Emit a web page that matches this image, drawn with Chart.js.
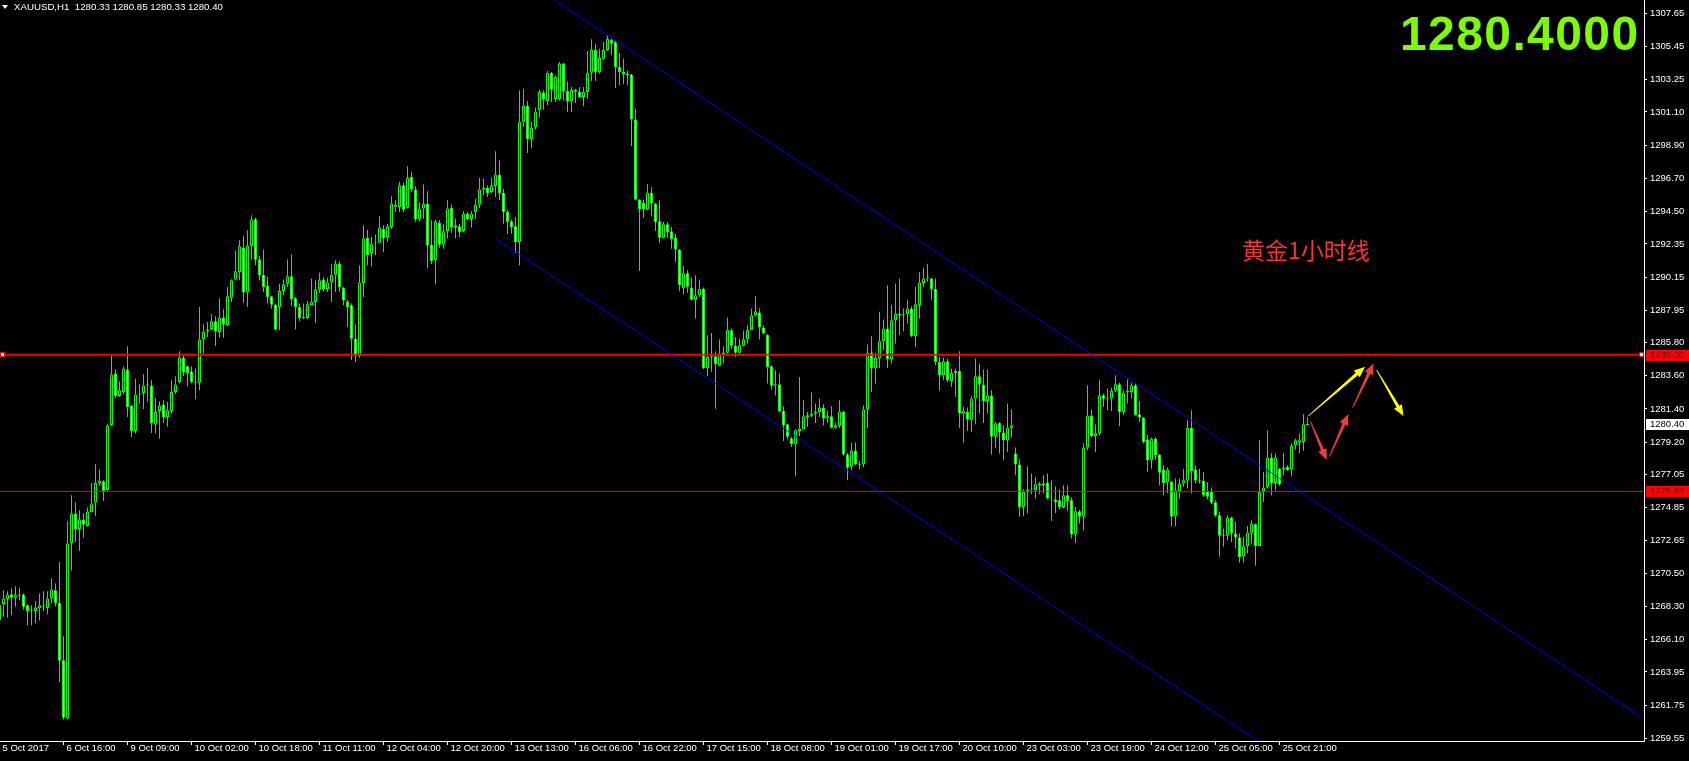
<!DOCTYPE html>
<html>
<head>
<meta charset="utf-8">
<title>XAUUSD,H1</title>
<script src="https://cdn.jsdelivr.net/npm/chart.js@4.4.1/dist/chart.umd.min.js"></script>
<style>
    html, body { margin: 0; padding: 0; background: #000; }
    body { width: 1689px; height: 761px; overflow: hidden; position: relative; }
    #myChart { position: absolute; left: 0; top: 0; }
    .overlay { position: absolute; white-space: nowrap; }
    #tri { position: absolute; left: 2px; top: 5px; width: 0; height: 0;
           border-left: 3px solid transparent; border-right: 3px solid transparent; border-top: 4px solid #fff; }
    #header { left: 14px; top: 1px; color: #fff;
              font: 9.7px/11px 'Liberation Sans', Arial, sans-serif; }
    #bigPrice { left: 1400px; top: 10px; color: #7cfc00; letter-spacing: 1.4px;
                font: bold 48px/48px 'Liberation Sans', Arial, sans-serif; }
    #note { left: 1242px; top: 238px; color: #ff3030;
            font: 23px/23px 'Noto Sans CJK SC', sans-serif; }
</style>
</head>
<body>
<canvas id="myChart" width="1689" height="761"></canvas>
<div id="tri"></div>
<div class="overlay" id="header">XAUUSD,H1&nbsp;&nbsp;1280.33 1280.85 1280.33 1280.40</div>
<div class="overlay" id="bigPrice">1280.4000</div>
<div class="overlay" id="note">黄金1小时线</div>

<script>
// hourly bars (index 0 = first bar on the left)
const barOpen = [
    1267.4, 1268.42, 1268.78, 1269.11, 1268.87, 1269.00, 1269.09, 1268.38, 1268.00, 1268.00,
    1268.20, 1268.38, 1268.20, 1268.82, 1269.37, 1268.55, 1264.73, 1260.86, 1272.51, 1274.46,
    1273.44, 1274.06, 1273.64, 1274.57, 1275.19, 1276.49, 1276.60, 1276.03, 1280.34, 1283.75,
    1282.26, 1282.53, 1284.01, 1281.62, 1279.94, 1282.35, 1282.46, 1282.93, 1282.95, 1280.36,
    1281.27, 1281.69, 1280.87, 1281.27, 1282.53, 1283.19, 1284.81, 1284.23, 1283.88, 1283.19,
    1283.13, 1286.00, 1286.57, 1286.68, 1287.21, 1286.51, 1287.46, 1286.95, 1288.78, 1289.98,
    1290.49, 1292.10, 1289.12, 1292.19, 1293.98, 1291.33, 1290.31, 1289.58, 1288.87, 1288.32,
    1288.17, 1289.23, 1289.71, 1290.20, 1288.74, 1288.16, 1287.50, 1287.44, 1288.30, 1288.50,
    1289.31, 1289.98, 1289.36, 1289.78, 1290.31, 1291.04, 1289.45, 1288.52, 1288.28, 1286.06,
    1284.89, 1289.76, 1292.74, 1291.75, 1292.37, 1292.43, 1293.34, 1292.76, 1293.47, 1294.95,
    1294.80, 1296.24, 1294.75, 1296.79, 1295.95, 1293.96, 1294.69, 1295.02, 1292.30, 1291.26,
    1293.76, 1292.30, 1293.20, 1294.73, 1293.47, 1293.52, 1293.21, 1294.36, 1294.00, 1294.47,
    1294.95, 1295.97, 1296.08, 1295.79, 1296.19, 1296.94, 1295.75, 1294.47, 1293.85, 1293.52,
    1292.48, 1300.46, 1301.52, 1299.29, 1300.10, 1301.21, 1302.40, 1301.83, 1303.71, 1301.96,
    1301.96, 1304.31, 1302.49, 1301.83, 1302.45, 1302.45, 1302.09, 1302.43, 1303.71, 1305.23,
    1303.75, 1304.64, 1305.21, 1305.90, 1305.72, 1304.08, 1303.75, 1303.60, 1303.58, 1300.59,
    1295.28, 1295.06, 1294.64, 1295.75, 1295.02, 1293.85, 1292.76, 1293.65, 1293.18, 1292.76,
    1291.97, 1289.40, 1290.40, 1289.45, 1288.65, 1288.94, 1289.38, 1284.12, 1284.81, 1284.90,
    1284.26, 1285.01, 1285.12, 1286.62, 1285.60, 1285.12, 1285.60, 1286.00, 1286.66, 1287.62,
    1287.79, 1286.80, 1286.33, 1284.23, 1282.97, 1283.04, 1281.27, 1280.39, 1279.44, 1279.04,
    1279.94, 1280.03, 1280.85, 1280.94, 1281.09, 1281.20, 1281.49, 1280.76, 1280.92, 1280.16,
    1280.27, 1281.23, 1278.37, 1277.56, 1278.64, 1277.71, 1277.71, 1281.36, 1285.14, 1284.12,
    1284.74, 1285.89, 1286.73, 1284.70, 1287.28, 1287.73, 1287.62, 1287.68, 1288.06, 1286.24,
    1288.28, 1289.76, 1290.03, 1290.05, 1289.38, 1284.52, 1283.64, 1284.56, 1283.26, 1283.79,
    1283.92, 1281.09, 1281.20, 1280.65, 1282.09, 1283.57, 1283.02, 1281.93, 1282.27, 1279.55,
    1280.47, 1279.83, 1279.32, 1280.14, 1278.44, 1277.71, 1274.90, 1275.96, 1276.05, 1276.01,
    1276.36, 1276.45, 1276.52, 1275.45, 1275.39, 1275.34, 1274.90, 1275.68, 1275.34, 1273.07,
    1274.61, 1274.24, 1278.84, 1280.96, 1279.61, 1279.77, 1282.31, 1282.07, 1282.09, 1282.60,
    1283.04, 1281.20, 1282.49, 1282.53, 1282.97, 1281.05, 1280.83, 1279.37, 1278.00, 1279.43,
    1278.37, 1277.38, 1276.55, 1276.56, 1274.28, 1275.96, 1276.45, 1276.63, 1280.16, 1277.38,
    1276.67, 1276.63, 1275.96, 1275.90, 1275.21, 1274.35, 1273.02, 1272.98, 1274.19, 1273.13,
    1272.87, 1271.63, 1272.29, 1273.13, 1273.75, 1272.31, 1275.96, 1276.18, 1278.17, 1276.49,
    1277.44, 1277.38, 1277.56, 1277.38, 1278.97, 1279.15, 1279.21, 1280.33
];
const barHigh = [
    1268.8, 1269.37, 1269.31, 1269.48, 1269.64, 1269.55, 1269.15, 1268.45, 1268.38, 1268.64,
    1269.15, 1269.31, 1269.31, 1270.15, 1269.82, 1271.25, 1266.32, 1273.95, 1275.68, 1275.21,
    1274.68, 1274.46, 1274.86, 1276.49, 1277.73, 1277.38, 1276.67, 1280.43, 1284.96, 1284.01,
    1283.24, 1284.23, 1285.56, 1281.65, 1283.41, 1283.04, 1283.70, 1284.14, 1283.30, 1282.15,
    1281.91, 1281.98, 1281.87, 1283.30, 1283.57, 1285.23, 1284.96, 1284.30, 1284.23, 1284.08,
    1288.17, 1287.02, 1287.17, 1287.68, 1287.55, 1288.74, 1288.01, 1289.47, 1290.00, 1291.92,
    1292.59, 1292.85, 1293.25, 1294.25, 1294.09, 1291.53, 1291.97, 1290.15, 1288.90, 1288.39,
    1289.71, 1289.98, 1291.33, 1291.66, 1288.83, 1288.39, 1288.39, 1288.56, 1290.04, 1289.93,
    1290.44, 1290.15, 1290.11, 1291.00, 1291.26, 1291.22, 1289.49, 1288.65, 1288.39, 1287.02,
    1290.93, 1293.58, 1293.29, 1292.81, 1292.98, 1294.18, 1293.58, 1293.69, 1295.51, 1295.28,
    1296.48, 1296.39, 1297.50, 1297.12, 1296.17, 1295.13, 1296.30, 1295.84, 1293.91, 1293.96,
    1293.91, 1293.65, 1295.24, 1294.97, 1294.02, 1293.69, 1294.53, 1294.47, 1294.53, 1295.35,
    1296.74, 1296.68, 1296.24, 1296.74, 1298.49, 1297.89, 1296.01, 1294.62, 1293.96, 1294.14,
    1302.54, 1302.65, 1301.83, 1300.44, 1301.39, 1302.58, 1302.54, 1303.82, 1303.75, 1303.53,
    1304.42, 1304.35, 1303.13, 1302.76, 1302.65, 1302.76, 1302.76, 1305.15, 1305.92, 1305.63,
    1305.30, 1305.74, 1306.19, 1305.96, 1305.81, 1305.01, 1304.64, 1303.86, 1303.62, 1301.32,
    1295.32, 1295.28, 1296.30, 1296.12, 1295.06, 1295.24, 1293.80, 1293.80, 1293.47, 1293.03,
    1292.00, 1290.86, 1290.60, 1290.11, 1290.27, 1289.98, 1289.45, 1286.29, 1286.44, 1285.23,
    1286.02, 1285.56, 1287.46, 1286.73, 1286.18, 1286.07, 1286.58, 1286.95, 1288.06, 1288.88,
    1288.06, 1286.95, 1286.36, 1284.30, 1283.97, 1283.75, 1281.58, 1280.40, 1279.55, 1280.03,
    1283.52, 1281.98, 1281.20, 1282.49, 1281.76, 1282.09, 1281.71, 1281.27, 1281.58, 1280.50,
    1281.98, 1281.25, 1278.48, 1279.15, 1279.19, 1277.95, 1281.65, 1285.67, 1286.22, 1285.12,
    1287.84, 1287.33, 1289.61, 1288.32, 1289.72, 1290.05, 1288.06, 1288.65, 1288.21, 1289.49,
    1290.47, 1290.78, 1291.04, 1290.11, 1290.05, 1284.85, 1284.79, 1284.74, 1284.08, 1284.08,
    1285.23, 1281.54, 1281.49, 1282.24, 1284.74, 1284.41, 1284.01, 1284.01, 1282.64, 1280.54,
    1280.54, 1280.32, 1281.76, 1281.36, 1278.84, 1278.06, 1276.05, 1277.60, 1277.11, 1276.89,
    1276.56, 1277.00, 1277.11, 1276.67, 1276.27, 1276.05, 1276.34, 1276.34, 1275.52, 1274.90,
    1274.72, 1279.10, 1282.97, 1281.36, 1280.36, 1283.30, 1282.42, 1282.75, 1282.80, 1283.63,
    1283.13, 1282.64, 1283.35, 1283.13, 1283.08, 1281.93, 1280.87, 1279.66, 1279.50, 1279.54,
    1278.40, 1277.67, 1277.51, 1276.63, 1276.78, 1276.78, 1277.44, 1280.65, 1281.31, 1277.67,
    1277.44, 1277.22, 1276.56, 1276.19, 1275.34, 1274.57, 1273.46, 1274.35, 1274.24, 1273.91,
    1273.13, 1272.91, 1273.64, 1274.02, 1273.80, 1279.32, 1277.22, 1279.99, 1278.48, 1278.44,
    1277.50, 1278.48, 1277.67, 1279.10, 1279.43, 1279.77, 1281.05, 1280.85
];
const barLow = [
    1267.0, 1267.61, 1267.54, 1267.72, 1268.27, 1268.71, 1268.09, 1267.01, 1267.05, 1267.16,
    1267.38, 1268.00, 1267.78, 1268.49, 1268.31, 1263.29, 1260.80, 1260.80, 1270.66, 1272.58,
    1271.98, 1272.85, 1273.58, 1274.53, 1274.30, 1276.29, 1275.30, 1275.96, 1280.25, 1282.15,
    1282.20, 1282.37, 1280.87, 1279.54, 1279.77, 1281.76, 1281.40, 1281.87, 1279.81, 1279.77,
    1279.43, 1280.47, 1280.21, 1281.09, 1282.37, 1283.08, 1283.59, 1282.91, 1283.08, 1282.04,
    1282.64, 1285.07, 1286.18, 1286.62, 1285.58, 1286.13, 1286.13, 1286.90, 1288.50, 1289.93,
    1289.93, 1288.45, 1288.16, 1291.30, 1290.93, 1289.93, 1289.16, 1288.39, 1288.05, 1286.62,
    1286.62, 1288.94, 1289.49, 1288.23, 1286.68, 1287.21, 1287.35, 1287.35, 1288.30, 1287.10,
    1289.09, 1289.20, 1289.16, 1288.50, 1289.16, 1289.16, 1288.28, 1286.84, 1284.63, 1284.52,
    1284.80, 1288.83, 1290.93, 1290.86, 1291.59, 1292.39, 1291.81, 1292.48, 1293.36, 1294.47,
    1294.47, 1294.47, 1294.69, 1295.79, 1293.80, 1293.85, 1294.02, 1290.75, 1291.00, 1289.65,
    1292.10, 1292.03, 1292.70, 1293.07, 1292.70, 1292.81, 1293.14, 1293.91, 1293.43, 1294.02,
    1294.73, 1295.57, 1295.46, 1295.73, 1295.46, 1295.24, 1293.69, 1292.99, 1293.03, 1291.75,
    1290.93, 1300.10, 1298.38, 1298.71, 1299.93, 1300.72, 1301.25, 1301.54, 1301.76, 1301.76,
    1301.87, 1301.87, 1301.10, 1301.10, 1301.70, 1302.03, 1301.48, 1301.98, 1303.16, 1303.16,
    1303.64, 1304.57, 1305.15, 1304.86, 1302.69, 1302.87, 1302.94, 1302.87, 1298.82, 1295.24,
    1290.55, 1294.09, 1294.60, 1294.18, 1293.21, 1292.41, 1292.70, 1292.76, 1292.03, 1291.15,
    1289.20, 1289.00, 1289.10, 1288.60, 1287.39, 1288.83, 1284.05, 1283.57, 1283.86, 1281.42,
    1284.23, 1284.41, 1285.07, 1285.40, 1284.85, 1285.03, 1285.56, 1285.74, 1286.62, 1287.55,
    1286.00, 1286.36, 1283.08, 1282.68, 1282.31, 1281.20, 1279.28, 1279.37, 1278.88, 1276.94,
    1279.61, 1280.03, 1280.21, 1280.87, 1280.47, 1280.87, 1280.32, 1280.47, 1280.10, 1280.10,
    1280.14, 1278.30, 1276.67, 1277.34, 1277.68, 1277.38, 1277.51, 1280.14, 1282.53, 1283.08,
    1284.12, 1285.29, 1284.12, 1284.41, 1285.74, 1286.29, 1286.55, 1287.06, 1286.18, 1285.51,
    1287.39, 1289.49, 1289.83, 1288.65, 1284.30, 1282.60, 1283.30, 1283.19, 1282.86, 1282.20,
    1280.16, 1279.15, 1279.94, 1279.88, 1280.39, 1281.09, 1280.47, 1281.09, 1278.37, 1278.82,
    1278.44, 1277.99, 1278.55, 1279.50, 1277.00, 1274.24, 1274.28, 1274.46, 1275.74, 1275.45,
    1275.74, 1275.79, 1275.39, 1273.97, 1274.50, 1274.72, 1274.79, 1274.64, 1272.80, 1272.51,
    1273.80, 1273.35, 1278.66, 1279.54, 1278.55, 1279.66, 1281.53, 1281.31, 1281.27, 1282.53,
    1280.25, 1280.98, 1281.76, 1282.09, 1280.95, 1280.54, 1279.10, 1277.22, 1277.44, 1278.00,
    1276.34, 1275.68, 1275.83, 1273.62, 1273.62, 1275.45, 1276.23, 1276.12, 1275.79, 1276.45,
    1276.45, 1275.57, 1275.39, 1275.08, 1274.24, 1271.59, 1272.25, 1272.69, 1272.58, 1272.14,
    1271.19, 1271.19, 1271.81, 1272.47, 1270.99, 1272.30, 1275.23, 1276.12, 1275.68, 1276.01,
    1276.30, 1277.00, 1277.30, 1276.94, 1278.70, 1278.48, 1278.62, 1280.33
];
const barClose = [
    1268.4, 1268.82, 1269.09, 1268.87, 1269.04, 1269.09, 1268.27, 1268.00, 1267.98, 1268.22,
    1268.38, 1268.30, 1268.82, 1269.42, 1268.53, 1264.69, 1260.91, 1272.47, 1274.46, 1273.44,
    1274.06, 1273.73, 1274.59, 1275.12, 1276.49, 1276.65, 1275.96, 1280.30, 1283.68, 1282.26,
    1282.64, 1284.08, 1281.53, 1279.94, 1282.35, 1282.42, 1282.95, 1283.02, 1280.43, 1281.20,
    1281.62, 1280.87, 1281.31, 1282.53, 1283.02, 1284.81, 1283.81, 1283.79, 1283.19, 1283.13,
    1286.00, 1286.53, 1286.66, 1287.21, 1286.57, 1287.46, 1286.99, 1288.87, 1289.93, 1290.53,
    1292.19, 1289.12, 1292.23, 1293.98, 1291.30, 1290.27, 1289.49, 1288.83, 1288.32, 1286.66,
    1289.23, 1289.67, 1290.20, 1288.70, 1288.16, 1287.44, 1287.44, 1288.34, 1288.52, 1289.34,
    1289.93, 1289.36, 1289.78, 1290.31, 1291.04, 1289.49, 1288.59, 1288.16, 1286.06, 1284.89,
    1289.78, 1292.70, 1291.59, 1292.37, 1292.45, 1293.43, 1292.70, 1293.52, 1295.02, 1294.82,
    1296.24, 1294.62, 1296.74, 1295.95, 1293.96, 1294.69, 1295.02, 1292.23, 1291.22, 1293.85,
    1292.30, 1293.18, 1294.69, 1293.47, 1293.58, 1293.14, 1294.36, 1294.00, 1294.36, 1294.97,
    1295.95, 1296.08, 1295.73, 1296.24, 1296.96, 1295.73, 1294.47, 1293.80, 1293.43, 1292.48,
    1300.46, 1301.52, 1299.31, 1300.06, 1301.14, 1302.45, 1301.92, 1303.71, 1302.58, 1303.42,
    1304.31, 1302.49, 1301.79, 1302.56, 1302.58, 1302.09, 1302.45, 1303.71, 1305.23, 1303.75,
    1304.68, 1305.23, 1305.94, 1305.63, 1304.08, 1303.75, 1303.58, 1303.56, 1300.61, 1295.28,
    1294.67, 1294.64, 1295.75, 1295.06, 1293.80, 1292.76, 1293.65, 1293.14, 1292.65, 1291.97,
    1289.60, 1290.40, 1289.50, 1288.65, 1288.94, 1289.38, 1284.12, 1284.85, 1284.90, 1284.37,
    1285.01, 1285.14, 1286.66, 1285.60, 1285.12, 1285.63, 1286.02, 1286.66, 1287.62, 1287.88,
    1286.80, 1286.40, 1284.19, 1282.93, 1283.01, 1281.27, 1280.32, 1279.55, 1279.06, 1279.99,
    1280.10, 1280.92, 1280.98, 1281.09, 1281.20, 1281.49, 1280.76, 1280.92, 1280.16, 1280.32,
    1281.23, 1278.37, 1277.49, 1278.64, 1277.73, 1277.67, 1281.38, 1285.14, 1284.08, 1284.79,
    1285.89, 1286.73, 1284.70, 1287.28, 1287.73, 1287.60, 1287.68, 1288.06, 1286.24, 1288.34,
    1289.78, 1290.05, 1290.11, 1289.36, 1284.52, 1283.64, 1284.56, 1283.30, 1283.79, 1283.92,
    1281.09, 1281.25, 1280.69, 1282.09, 1283.57, 1283.02, 1281.93, 1282.31, 1279.55, 1280.43,
    1279.83, 1279.32, 1280.16, 1280.32, 1277.71, 1274.90, 1275.90, 1276.05, 1276.12, 1276.41,
    1276.45, 1276.34, 1275.45, 1275.39, 1275.23, 1274.90, 1275.68, 1275.30, 1273.07, 1274.61,
    1274.24, 1278.84, 1280.96, 1279.59, 1279.79, 1282.31, 1282.07, 1282.11, 1282.60, 1283.04,
    1281.20, 1282.49, 1282.60, 1282.97, 1280.98, 1280.83, 1279.21, 1278.00, 1279.43, 1278.33,
    1277.16, 1276.49, 1277.38, 1274.24, 1276.01, 1276.45, 1276.67, 1280.16, 1277.29, 1276.63,
    1276.60, 1275.68, 1275.57, 1275.17, 1274.33, 1272.98, 1272.98, 1274.19, 1273.13, 1272.87,
    1271.54, 1272.29, 1273.20, 1273.80, 1272.31, 1275.90, 1276.18, 1278.17, 1276.45, 1278.17,
    1276.41, 1277.51, 1277.34, 1278.97, 1279.32, 1279.32, 1280.38, 1280.40
];

// time axis: a label every 16 bars
const timeTickBars = [0, 16, 32, 48, 64, 80, 96, 112, 128, 144, 160, 176, 192, 208, 224, 240, 256, 272, 288, 304, 320];
const timeTickLabels = [
    '5 Oct 2017', '6 Oct 16:00', '9 Oct 09:00', '10 Oct 02:00', '10 Oct 18:00', '11 Oct 11:00',
    '12 Oct 04:00', '12 Oct 20:00', '13 Oct 13:00', '16 Oct 06:00', '16 Oct 22:00', '17 Oct 15:00',
    '18 Oct 08:00', '19 Oct 01:00', '19 Oct 17:00', '20 Oct 10:00', '23 Oct 03:00', '23 Oct 19:00',
    '24 Oct 12:00', '25 Oct 05:00', '25 Oct 21:00'
];
const priceTicks = [
    1307.65, 1305.45, 1303.25, 1301.10, 1298.90, 1296.70, 1294.50, 1292.35, 1290.15, 1287.95,
    1285.80, 1283.60, 1281.40, 1279.20, 1277.05, 1274.85, 1272.65, 1270.50, 1268.30, 1266.10,
    1263.95, 1261.75, 1259.55
];

// drawn objects: channel (bar index, price), horizontal levels, arrows
const channelUpper = [[138, 1308.65], [411.2, 1260.84]];
const channelLower = [[124, 1292.70], [330, 1256.69]];
const levelPrices = [1285.00, 1275.93];
const bidPrice = 1280.40;
const yellowArrows = [[327.2, 1280.93, 341.4, 1284.20], [344.3, 1283.98, 351.0, 1280.93]];
const redArrows = [[327.7, 1280.60, 331.8, 1278.01], [332.5, 1278.23, 337.2, 1281.06], [338.3, 1281.48, 343.5, 1284.42]];

const xMin = 0.125, xMax = 411.125;
const yMin = 1259.37, yMax = 1308.53;
const axisFontFamily = "'Liberation Sans', Arial, sans-serif";
const axisFont = { family: axisFontFamily, size: 9.5, lineHeight: 1 };
const candleGreen = '#00ff00';

function toPoints(pairs) {
    return pairs.map(p => ({ x: p[0], y: p[1] }));
}

function drawArrow(ctx, x1, y1, x2, y2, color) {
    const len = Math.hypot(x2 - x1, y2 - y1);
    const ux = (x2 - x1) / len, uy = (y2 - y1) / len;
    const nx = -uy, ny = ux;
    const head = 11, headW = 4.5, neckW = 1.6, tailW = 0.4;
    const bx = x2 - ux * head, by = y2 - uy * head;
    ctx.beginPath();
    ctx.moveTo(x1 + nx * tailW, y1 + ny * tailW);
    ctx.lineTo(bx + nx * neckW, by + ny * neckW);
    ctx.lineTo(bx + nx * headW, by + ny * headW);
    ctx.lineTo(x2, y2);
    ctx.lineTo(bx - nx * headW, by - ny * headW);
    ctx.lineTo(bx - nx * neckW, by - ny * neckW);
    ctx.lineTo(x1 - nx * tailW, y1 - ny * tailW);
    ctx.closePath();
    ctx.fillStyle = color;
    ctx.fill();
}

function axisPriceLabel(ctx, y, text, bg, fg) {
    const top = Math.round(y) - 5;
    ctx.fillStyle = bg;
    ctx.fillRect(1646, top, 43, 11);
    ctx.fillStyle = fg;
    ctx.font = '9.5px ' + axisFontFamily;
    ctx.textAlign = 'left';
    ctx.textBaseline = 'middle';
    ctx.fillText(text, 1650, top + 5.5);
}

// arrows, level markers and price tags on the axis
const overlayPlugin = {
    id: 'overlay',
    afterDatasetsDraw(chart) {
        const ctx = chart.ctx;
        const xs = chart.scales.x, ys = chart.scales.y;
        ctx.save();
        yellowArrows.forEach(a => drawArrow(ctx, xs.getPixelForValue(a[0]), ys.getPixelForValue(a[1]),
            xs.getPixelForValue(a[2]), ys.getPixelForValue(a[3]), '#ffff00'));
        redArrows.forEach(a => drawArrow(ctx, xs.getPixelForValue(a[0]), ys.getPixelForValue(a[1]),
            xs.getPixelForValue(a[2]), ys.getPixelForValue(a[3]), '#f03c3c'));
        // selection squares on the 1285 level
        const ly = Math.round(ys.getPixelForValue(levelPrices[0]));
        [0, chart.chartArea.right - 5].forEach(x => {
            ctx.fillStyle = '#ff0000';
            ctx.fillRect(x, ly - 3, 5, 5);
            ctx.fillStyle = '#ffffff';
            ctx.fillRect(x + 1, ly - 2, 3, 3);
        });
        ctx.restore();
    },
    afterDraw(chart) {
        const ctx = chart.ctx;
        const ys = chart.scales.y;
        ctx.save();
        levelPrices.forEach(p => axisPriceLabel(ctx, ys.getPixelForValue(p), p.toFixed(2), '#ff0000', '#6a0000'));
        axisPriceLabel(ctx, ys.getPixelForValue(bidPrice), bidPrice.toFixed(2), '#ffffff', '#000000');
        ctx.restore();
    }
};

let myChart;

function initializeChart() {
    const ctx = document.getElementById('myChart');
    const bodies = barOpen.map((o, i) => ({ x: i, y: [o, barClose[i]] }));
    const wicks = barLow.map((l, i) => ({ x: i, y: [l, barHigh[i]] }));

    myChart = new Chart(ctx, {
        type: 'bar',
        data: {
            datasets: [
                {
                    label: 'wicks',
                    data: wicks,
                    backgroundColor: candleGreen,
                    borderWidth: 0,
                    barThickness: 1,
                    minBarLength: 1,
                    grouped: false,
                    inflateAmount: 0,
                    order: 5
                },
                {
                    label: 'bodies',
                    data: bodies,
                    backgroundColor: c => (barClose[c.dataIndex] < barOpen[c.dataIndex] ? '#ffffff' : '#000000'),
                    borderColor: candleGreen,
                    borderWidth: 1,
                    borderSkipped: false,
                    barThickness: 3,
                    minBarLength: 1,
                    grouped: false,
                    inflateAmount: 0,
                    order: 4
                },
                {
                    type: 'line',
                    label: 'level 1285.00',
                    data: toPoints([[xMin, levelPrices[0]], [xMax, levelPrices[0]]]),
                    borderColor: '#ff0000',
                    borderWidth: 2,
                    pointRadius: 0,
                    order: 2
                },
                {
                    type: 'line',
                    label: 'level 1275.93',
                    data: toPoints([[xMin, levelPrices[1]], [xMax, levelPrices[1]]]),
                    borderColor: '#ff0000',
                    borderWidth: 1,
                    pointRadius: 0,
                    order: 2
                },
                {
                    type: 'line',
                    label: 'channel top',
                    data: toPoints(channelUpper),
                    borderColor: '#0000ff',
                    borderWidth: 1,
                    pointRadius: 0,
                    order: 1
                },
                {
                    type: 'line',
                    label: 'channel bottom',
                    data: toPoints(channelLower),
                    borderColor: '#0000ff',
                    borderWidth: 1,
                    pointRadius: 0,
                    order: 1
                }
            ]
        },
        options: {
            responsive: false,
            animation: false,
            events: [],
            layout: { padding: 0 },
            plugins: { legend: { display: false }, tooltip: { enabled: false } },
            scales: {
                x: {
                    type: 'linear',
                    min: xMin,
                    max: xMax,
                    offset: false,
                    afterBuildTicks: scale => { scale.ticks = timeTickBars.map(v => ({ value: v })); },
                    afterFit: scale => {
                        scale.height = 20;
                        scale.paddingLeft = 0;
                        scale.paddingRight = 0;
                    },
                    grid: { display: true, drawOnChartArea: false, offset: false, tickLength: 4, color: '#ffffff' },
                    border: { display: true, color: '#ffffff', width: 1 },
                    ticks: {
                        autoSkip: false,
                        maxRotation: 0,
                        align: 'start',
                        labelOffset: 3,
                        padding: -1,
                        color: '#ffffff',
                        font: axisFont,
                        callback: (value, index) => timeTickLabels[index]
                    }
                },
                y: {
                    type: 'linear',
                    position: 'right',
                    min: yMin,
                    max: yMax,
                    beginAtZero: false,
                    afterBuildTicks: scale => { scale.ticks = priceTicks.map(v => ({ value: v })); },
                    afterFit: scale => {
                        scale.width = 45;
                        scale.paddingTop = 0;
                        scale.paddingBottom = 0;
                    },
                    grid: { display: true, drawOnChartArea: false, tickLength: 3, color: '#ffffff' },
                    border: { display: true, color: '#ffffff', width: 1 },
                    ticks: {
                        padding: 3,
                        color: '#ffffff',
                        font: axisFont,
                        callback: value => value.toFixed(2)
                    }
                }
            }
        },
        plugins: [overlayPlugin]
    });
}

document.addEventListener('DOMContentLoaded', function() {
    initializeChart();
});
</script>
</body>
</html>
